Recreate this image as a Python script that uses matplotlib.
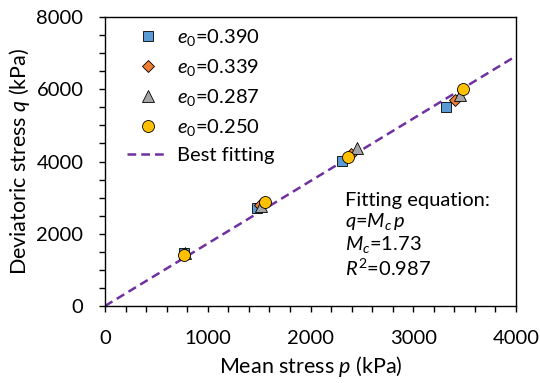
import matplotlib
matplotlib.use('Agg')
import matplotlib.pyplot as plt
from matplotlib.ticker import MultipleLocator

plt.rcParams['font.family'] = ['Lato', 'DejaVu Sans']
plt.rcParams['mathtext.fontset'] = 'custom'
plt.rcParams['mathtext.rm'] = 'Lato'
plt.rcParams['mathtext.it'] = 'Lato:italic'

# data
p_390 = [765, 1479, 2307, 3319]
q_390 = [1480, 2712, 4013, 5517]
p_339 = [770, 1510, 2390, 3406]
q_339 = [1450, 2790, 4207, 5701]
p_287 = [780, 1520, 2448, 3455]
q_287 = [1460, 2760, 4365, 5840]
p_250 = [769, 1557, 2368, 3480]
q_250 = [1411, 2878, 4115, 5997]
Mc = 1.73
fit_p = [0, 4000]

FS = 14.5
LFS = 15.5

fig = plt.figure(figsize=(5.4, 3.83), dpi=100)
ax = fig.add_axes([0.1944, 0.201, 0.7612, 0.7546])

fit_q = [Mc * x for x in fit_p]
ax.plot(fit_p, fit_q, '--', color='#7030A0', lw=1.8, dashes=(3.5, 2), zorder=2,
        label='Best fitting')
ax.plot(p_390, q_390, 's', ms=7, mfc='#5B9BD5', mec='black', mew=0.6, ls='none',
        zorder=3, label=r'$e_0$=0.390')
ax.plot(p_339, q_339, 'D', ms=6, mfc='#ED7D31', mec='black', mew=0.6, ls='none',
        zorder=3, label=r'$e_0$=0.339')
ax.plot(p_287, q_287, '^', ms=8, mfc='#A5A5A5', mec='black', mew=0.6, ls='none',
        zorder=3, label=r'$e_0$=0.287')
ax.plot(p_250, q_250, 'o', ms=8.6, mfc='#FFC000', mec='black', mew=0.6, ls='none',
        zorder=4, label=r'$e_0$=0.250')

ax.set_xlim(0, 4000)
ax.set_ylim(0, 8000)
ax.xaxis.set_major_locator(MultipleLocator(1000))
ax.xaxis.set_minor_locator(MultipleLocator(200))
ax.yaxis.set_major_locator(MultipleLocator(2000))
ax.yaxis.set_minor_locator(MultipleLocator(500))
ax.tick_params(which='both', direction='out', length=4.5, width=1, labelsize=FS)
ax.tick_params(axis='x', which='major', pad=13)
ax.tick_params(axis='y', which='major', pad=11)
for s in ax.spines.values():
    s.set_linewidth(1)

ax.set_xlabel(r'Mean stress $p$ (kPa)', fontsize=LFS, labelpad=5)
ax.set_ylabel(r'Deviatoric stress $q$ (kPa)', fontsize=LFS, labelpad=3)

h, l = ax.get_legend_handles_labels()
order = [1, 2, 3, 4, 0]
ax.legend([h[i] for i in order], [l[i] for i in order], loc='upper left',
          frameon=False, fontsize=FS, handlelength=2.0, handletextpad=0.45,
          labelspacing=0.45, borderaxespad=0.1, bbox_to_anchor=(0.03, 1.0))

ax.text(2336, 3150, 'Fitting equation:\n$q$=$M_c\\,p$\n$M_c$=1.73\n$R^2$=0.987',
        fontsize=FS, va='top', ha='left', linespacing=1.12)

fig.savefig('out.png', dpi=100)
